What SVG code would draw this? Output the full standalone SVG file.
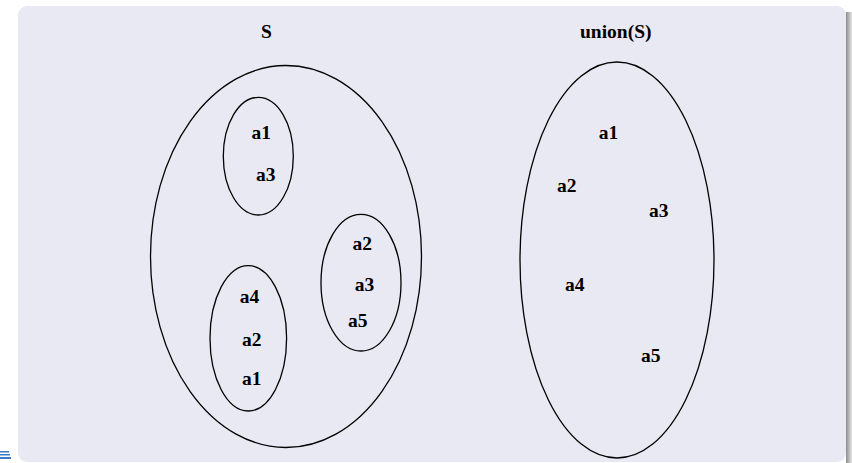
<svg xmlns="http://www.w3.org/2000/svg" width="852" height="463" viewBox="0 0 852 463">
<defs>
<linearGradient id="sh" x1="0" y1="0" x2="1" y2="0">
<stop offset="0" stop-color="#8c8c8c"/>
<stop offset="1" stop-color="#e6e6e6"/>
</linearGradient>
<style>
.set{fill:none;stroke:#000;stroke-width:1.3}
.t{font-family:"Liberation Serif","Times New Roman",serif;font-weight:bold;font-size:19.5px;fill:#000}
</style>
</defs>
<rect width="852" height="463" fill="#fff"/>
<rect x="846" y="12" width="6" height="451" fill="url(#sh)"/>
<rect x="18" y="6" width="828" height="456" rx="9" fill="#e9e9f3"/>
<g id="nav" fill="#3b7bc8">
<rect x="0" y="451" width="9" height="1.5"/>
<rect x="0" y="454" width="10" height="1.5"/>
<rect x="0" y="457" width="11" height="2"/>
</g>
<g id="title-S"><text class="t" x="261" y="38">S</text></g>
<g id="title-union"><text class="t" x="580" y="38">union(S)</text></g>
<g id="setS">
<ellipse class="set" cx="286" cy="256.5" rx="135.5" ry="191"/>
</g>
<g id="s1">
<ellipse class="set" cx="258.3" cy="156.2" rx="35" ry="58.8"/>
<text class="t" x="251.5" y="139">a1</text>
<text class="t" x="256" y="180.7">a3</text>
</g>
<g id="s2">
<ellipse class="set" cx="361" cy="282.7" rx="40" ry="68.3"/>
<text class="t" x="352.5" y="250">a2</text>
<text class="t" x="354.8" y="290.7">a3</text>
<text class="t" x="348" y="327.3">a5</text>
</g>
<g id="s3">
<ellipse class="set" cx="248.3" cy="338.3" rx="38.3" ry="72.7"/>
<text class="t" x="239.8" y="302.7">a4</text>
<text class="t" x="242" y="346">a2</text>
<text class="t" x="242" y="385">a1</text>
</g>
<g id="unionS">
<ellipse class="set" cx="617" cy="260" rx="97" ry="198"/>
<text class="t" x="598.8" y="138.7">a1</text>
<text class="t" x="557" y="191.7">a2</text>
<text class="t" x="649" y="216.7">a3</text>
<text class="t" x="565" y="291">a4</text>
<text class="t" x="641" y="362">a5</text>
</g>
</svg>
